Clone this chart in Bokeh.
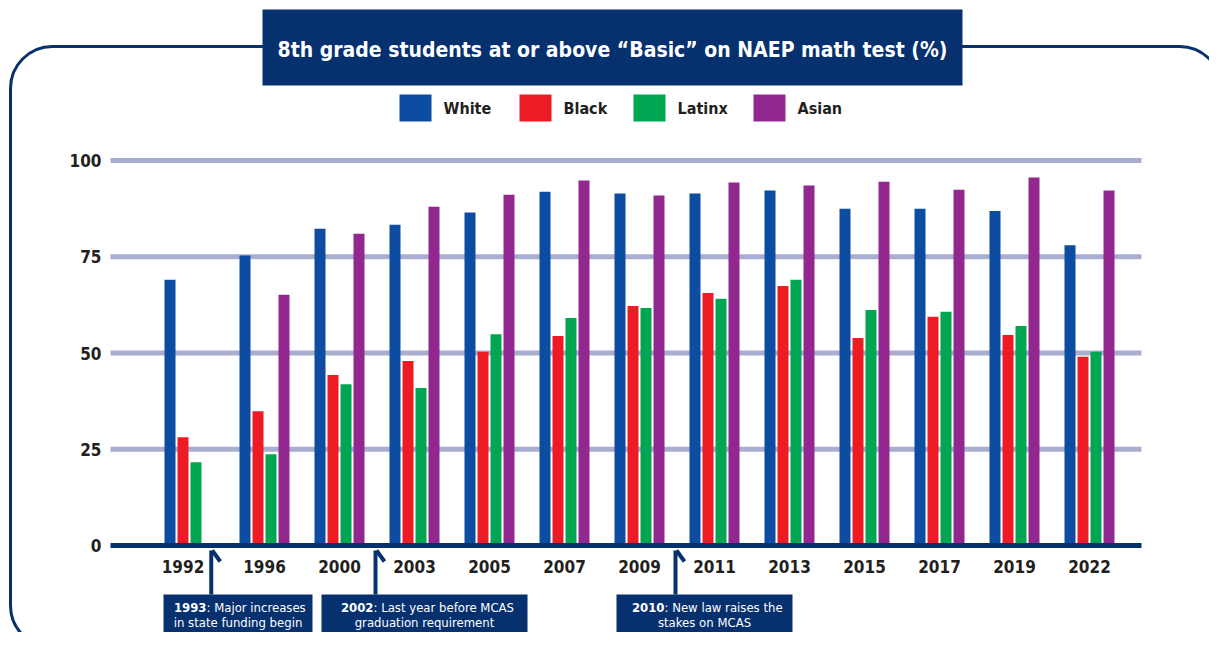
from bokeh.plotting import figure
from bokeh.models import ColumnDataSource, Range1d, BoxAnnotation
from bokeh.transform import dodge
from bokeh.core.properties import value
from bokeh.embed import file_html
from bokeh.resources import INLINE
import numpy as np

# ---------------- data ----------------
years = ["1992", "1996", "2000", "2003", "2005", "2007", "2009",
         "2011", "2013", "2015", "2017", "2019", "2022"]
white = [69.0, 75.3, 82.3, 83.3, 86.5, 91.9, 91.4, 91.4, 92.2, 87.5, 87.5, 86.9, 78.0]
black = [28.1, 34.9, 44.3, 47.9, 50.3, 54.4, 62.2, 65.6, 67.4, 53.9, 59.4, 54.7, 49.0]
latinx = [21.6, 23.7, 41.9, 40.9, 54.9, 59.1, 61.7, 64.1, 69.0, 61.2, 60.7, 57.0, 50.3]
asian = [None, 65.1, 81.0, 88.0, 91.1, 94.8, 90.9, 94.3, 93.5, 94.5, 92.4, 95.6, 92.2]
series_names = ["White", "Black", "Latinx", "Asian"]
series_colors = ["#0c4da2", "#ed1c24", "#00a651", "#92278f"]
y_ticks = [0, 25, 50, 75, 100]
title_text = "8th grade students at or above \u201cBasic\u201d on NAEP math test (%)"
events = [
    ("1993", ": Major increases", "in state funding begin", 0.29),
    ("2002", ": Last year before MCAS", "graduation requirement", 2.48),
    ("2010", ": New law raises the", "stakes on MCAS", 6.48),
]

NAVY = "#07306f"
GRID = "#a9aed1"
TXT = "#231f20"
FONT = value("DejaVu Sans Condensed")

# page-pixel helpers (layout only)
def px(X):
    return (X - 189.0) / 75.0

def py(Y):
    return (545.0 - Y) / 3.85

W, H = 1209, 632
p = figure(width=W, height=H, output_backend="svg", toolbar_location=None,
           x_axis_type=None, y_axis_type=None, min_border=0,
           x_range=Range1d(px(0), px(W)), y_range=Range1d(py(H), py(0)))
p.grid.visible = False
p.outline_line_color = None
p.background_fill_color = "white"
p.border_fill_color = "white"

# outer rounded frame
p.add_layout(BoxAnnotation(left=px(10), right=px(1221), top=py(46), bottom=py(647),
                           border_radius=42, fill_alpha=0, line_color=NAVY,
                           line_alpha=1.0, line_width=3, level="underlay"))

# gridlines
grid_vals = [v for v in y_ticks if v > 0]
p.segment(x0=[px(110)] * len(grid_vals), x1=[px(1141)] * len(grid_vals),
          y0=grid_vals, y1=grid_vals, line_color=GRID, line_width=5)

# bars
x_idx = np.arange(len(years), dtype=float)
data = dict(x=x_idx)
for name, vals in zip(series_names, [white, black, latinx, asian]):
    data[name] = [np.nan if v is None else v for v in vals]
src = ColumnDataSource(data)
step = 13.0 / 75.0
bw = 11.0 / 75.0
offsets = [(k - 1.5) * step for k in range(4)]
for name, col, off in zip(series_names, series_colors, offsets):
    p.vbar(x=dodge("x", off), top=name, bottom=0, width=bw, source=src,
           fill_color=col, line_color=None)

# zero axis line
p.segment(x0=[px(110)], x1=[px(1141)], y0=[0], y1=[0], line_color=NAVY, line_width=5)

# y tick labels
p.text(x=[px(101)] * len(y_ticks), y=y_ticks, text=[str(v) for v in y_ticks],
       text_align="right", text_baseline="middle", text_font=FONT,
       text_font_size="17px", text_font_style="bold", text_color=TXT)

# x tick labels, centred on the bars present
lab_x = []
all_series = [white, black, latinx, asian]
for i in range(len(years)):
    offs = [offsets[k] for k in range(4) if all_series[k][i] is not None]
    lab_x.append(i + sum(offs) / len(offs))
p.text(x=lab_x, y=[py(566)] * len(years), text=years, text_align="center",
       text_baseline="middle", text_font=FONT, text_font_size="17px",
       text_font_style="bold", text_color=TXT)

# title box
p.quad(left=[px(262)], right=[px(962)], top=[py(9)], bottom=[py(85)],
       fill_color=NAVY, line_color=None)
p.text(x=[px(612)], y=[py(49)], text=[title_text], text_align="center",
       text_baseline="middle", text_font=FONT, text_font_size="21px",
       text_font_style="bold", text_color="white")

# legend
leg_left = [399, 519, 633, 753]
p.quad(left=[px(v) for v in leg_left], right=[px(v + 32) for v in leg_left],
       top=[py(94)] * 4, bottom=[py(121)] * 4, fill_color=series_colors, line_color=None)
p.text(x=[px(v + 44) for v in leg_left], y=[py(108)] * 4, text=series_names,
       text_align="left", text_baseline="middle", text_font=FONT,
       text_font_size="16px", text_font_style="bold", text_color=TXT)

# event annotations
boxes = [(163, 312, 206), (321, 527, 373), (616, 792, 664)]
for (yr, rest, line2, xpos), (bl, br, split) in zip(events, boxes):
    p.segment(x0=[xpos], x1=[xpos], y0=[py(594)], y1=[py(550)], line_color=NAVY,
              line_width=4)
    p.segment(x0=[xpos + 1.0 / 75], x1=[xpos + 9.0 / 75], y0=[py(550)], y1=[py(561)],
              line_color=NAVY, line_width=4, line_cap="butt")
    p.quad(left=[px(bl)], right=[px(br)], top=[py(594)], bottom=[py(650)],
           fill_color=NAVY, line_color=None)
    p.text(x=[px(split)], y=[py(607)], text=[yr], text_align="right",
           text_baseline="middle", text_font=FONT, text_font_size="13px",
           text_font_style="bold", text_color="white")
    p.text(x=[px(split)], y=[py(607)], text=[rest], text_align="left",
           text_baseline="middle", text_font=FONT, text_font_size="13px",
           text_color="white")
    p.text(x=[px((bl + br) / 2)], y=[py(622)], text=[line2], text_align="center",
           text_baseline="middle", text_font=FONT, text_font_size="13px",
           text_color="white")

open("out.html", "w").write(file_html(p, INLINE))
